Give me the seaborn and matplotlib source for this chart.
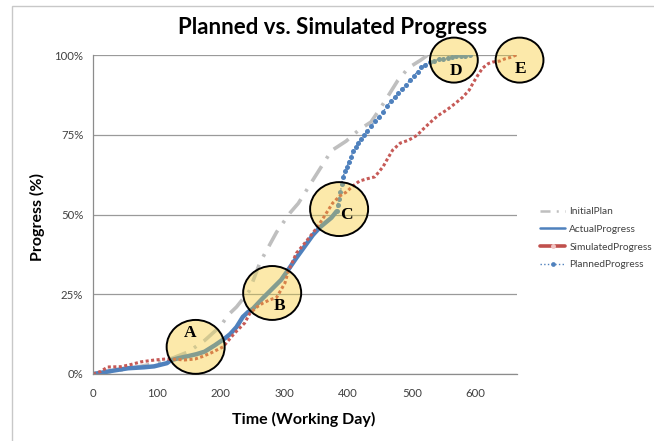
import seaborn as sns
import matplotlib.pyplot as plt
from matplotlib.patches import Ellipse, Rectangle
from matplotlib.lines import Line2D
from matplotlib.ticker import FuncFormatter

# data (x = working day, y = progress %)
init_x = [0, 30, 60, 90, 125, 150, 175, 200, 212, 225, 245, 262, 288, 309, 322,
          348, 374, 397, 417, 436, 452, 478, 495, 514, 525]
init_y = [0, 0.8, 1.8, 3.0, 5.0, 7.0, 10.5, 15.0, 18.5, 21.0, 26.0, 35.0, 44.5, 50.5, 53.5,
          61.8, 70.0, 73.0, 76.5, 79.0, 83.7, 92.0, 96.0, 98.4, 100]

act_x = [0, 10, 30, 55, 80, 96, 116, 122, 135, 149, 162, 175, 191, 207, 215, 225, 235,
         243, 251, 265, 280, 295, 306, 319, 332, 345, 356, 365, 374, 382]
act_y = [0, 0.3, 1.0, 1.8, 2.1, 2.4, 3.4, 4.3, 5.0, 5.6, 6.2, 7.0, 9.0, 11.2, 12.5, 14.7, 17.9,
         19.4, 20.5, 23.5, 26.5, 29.5, 32.6, 36.4, 40.0, 43.6, 46.0, 47.5, 49.0, 51.0]

sim_x = [0, 12, 23, 44, 60, 75, 97, 114, 130, 144, 160, 172, 185, 204, 222, 238, 246, 257,
         267, 278, 288, 301, 306, 319, 330, 340, 351, 363, 376, 387, 397, 408, 418, 430, 442,
         455, 462, 470, 482, 495, 508, 518, 528, 541, 555, 568, 580, 590, 596, 604, 611, 620,
         627, 638, 646, 654, 664]
sim_y = [0, 0.8, 2.2, 2.3, 3.0, 3.8, 4.4, 4.7, 4.6, 4.4, 4.7, 5.5, 6.6, 8.5, 12.8, 16.0, 19.0, 21.0,
         22.3, 23.3, 24.0, 28.5, 32.0, 37.9, 40.5, 43.0, 45.8, 49.5, 53.6, 55.8, 57.0, 59.0, 60.5, 61.2, 61.8,
         65.0, 67.5, 70.2, 72.4, 73.3, 74.8, 76.8, 78.7, 81.0, 82.8, 84.8, 86.8, 89.0, 91.2, 93.8, 95.9, 97.3,
         97.8, 98.1, 98.8, 99.2, 100]

plan_x = [382, 384, 386, 388, 390, 392, 395, 398, 401, 404, 408, 412, 416, 420, 425, 430, 436,
          442, 448, 455, 461, 467, 473, 479, 485, 491, 497, 503, 509, 515, 521, 528, 535, 542,
          549, 556, 563, 570, 577, 584, 591]
plan_y = [51.0, 53.0, 55.0, 57.0, 59.5, 61.8, 63.5, 65.0, 66.5, 68.0, 69.8, 71.3, 72.5, 73.6, 75.0, 76.2, 77.6,
          79.2, 80.6, 82.2, 84.0, 85.5, 86.8, 88.0, 89.2, 90.6, 92.2, 93.5, 94.8, 96.2, 97.0, 97.8, 98.2, 98.6,
          98.9, 99.2, 99.4, 99.6, 99.7, 99.8, 99.9]

# highlighted zones: label, centre (day, %), label position
zone_names = ['A', 'B', 'C', 'D', 'E']
zone_cx = [161, 281, 386, 566, 669]
zone_cy = [8.5, 25.4, 51.7, 98.4, 98.4]
zone_w = [91, 91, 91, 75, 75]
zone_h = [16.9, 16.9, 16.9, 14.1, 14.1]
label_x = [152, 293, 398, 569, 671]
label_y = [12.9, 21.3, 49.8, 95.0, 95.6]

sns.set_theme(style="white")
plt.rcParams['font.family'] = ['Lato', 'DejaVu Sans']

BLUE = '#4F81BD'
RED = '#C0504D'
GRAY = '#BFBFBF'

fig = plt.figure(figsize=(6.54, 4.41), dpi=100)
ax = fig.add_axes([93 / 654, 1 - 374 / 441, (517 - 93) / 654, (374 - 55) / 441])

sns.lineplot(x=init_x, y=init_y, ax=ax, color=GRAY, lw=2.6, linestyle=(0, (5, 2.5, 0.8, 2.5)),
             sort=False, estimator=None, zorder=2)
sns.lineplot(x=act_x, y=act_y, ax=ax, color=BLUE, lw=3.2, sort=False, estimator=None, zorder=2)
sns.lineplot(x=sim_x, y=sim_y, ax=ax, color='#c65a57', lw=2.2, linestyle=(0, (1, 0.8)),
             sort=False, estimator=None, zorder=2.2)
sns.lineplot(x=plan_x, y=plan_y, ax=ax, color=BLUE, lw=1, linestyle=':', marker='o',
             markersize=3.6, markeredgewidth=0, sort=False, estimator=None, zorder=2.1)

ax.set_xlim(0, 665)
ax.set_ylim(0, 100)
ax.set_xticks([0, 100, 200, 300, 400, 500, 600])
ax.set_yticks([0, 25, 50, 75, 100])
ax.yaxis.set_major_formatter(FuncFormatter(lambda v, p: f'{v:.0f}%'))
ax.set_xlabel('')
ax.set_ylabel('')
ax.set_axisbelow(True)
ax.grid(axis='y', color='#9a9a9a', lw=0.9, zorder=0.5)
ax.grid(axis='x', visible=False)
for s in ['top', 'right']:
    ax.spines[s].set_visible(False)
for s in ['left', 'bottom']:
    ax.spines[s].set_color('#8c8c8c')
    ax.spines[s].set_linewidth(0.9)
ax.tick_params(axis='both', labelsize=8.2, labelcolor='#404040', colors='#8c8c8c',
               direction='out', length=3, width=0.8, pad=4)
ax.tick_params(axis='x', pad=7)
for lab in ax.get_xticklabels() + ax.get_yticklabels():
    lab.set_color('#404040')

# highlight circles: pale under-layer plus translucent yellow on top of the lines
for n, cx, cy, w, h, lx, ly in zip(zone_names, zone_cx, zone_cy, zone_w, zone_h, label_x, label_y):
    ax.add_patch(Ellipse((cx, cy), w, h, facecolor='#fcefe2', edgecolor='none',
                         zorder=0.4, clip_on=False))
    ax.add_patch(Ellipse((cx, cy), w, h, facecolor=(1.0, 0.87, 0.16, 0.3), edgecolor='black',
                         lw=1.4, zorder=3, clip_on=False))
    ax.text(lx, ly, n, ha='center', va='center', fontsize=12.5, fontweight='bold',
            family='Liberation Serif', color='black', zorder=4, clip_on=False)

fig.text(333 / 654, 1 - 28 / 441, 'Planned vs. Simulated Progress', ha='center', va='center',
         fontsize=16, fontweight='bold', color='black')
fig.text(37 / 654, 1 - 217 / 441, 'Progress (%)', rotation=90, ha='center', va='center',
         fontsize=11.5, fontweight='bold', color='black')
fig.text(304 / 654, 1 - 419 / 441, 'Time (Working Day)', ha='center', va='center',
         fontsize=11.5, fontweight='bold', color='black')

handles = [
    Line2D([], [], color=GRAY, lw=1.8, linestyle=(0, (4, 2.5, 0.8, 2.5))),
    Line2D([], [], color=BLUE, lw=1.8),
    Line2D([], [], color=RED, lw=2.6, marker='o', markersize=2.5, markerfacecolor='#f2c4c3',
           markeredgecolor='#f2c4c3'),
    Line2D([], [], color=BLUE, lw=1, linestyle=':', marker='o', markersize=3.4, markeredgewidth=0),
]
names = ['InitialPlan', 'ActualProgress', 'SimulatedProgress', 'PlannedProgress']
fig.legend(handles, names, loc='upper left', bbox_to_anchor=(540 / 654, 1 - 207 / 441),
           frameon=False, fontsize=7.3, handlelength=2.5, handletextpad=0.4,
           labelspacing=0.85, labelcolor='#404040', borderaxespad=0, borderpad=0)

# outer chart frame (only its top and left edges fall inside the image)
fig.add_artist(Rectangle((12 / 654, -0.1), 1.2, 1.1 - 6 / 441, transform=fig.transFigure,
                         fill=False, edgecolor='#c8c8c8', lw=1))

fig.savefig('out.png', dpi=100)
